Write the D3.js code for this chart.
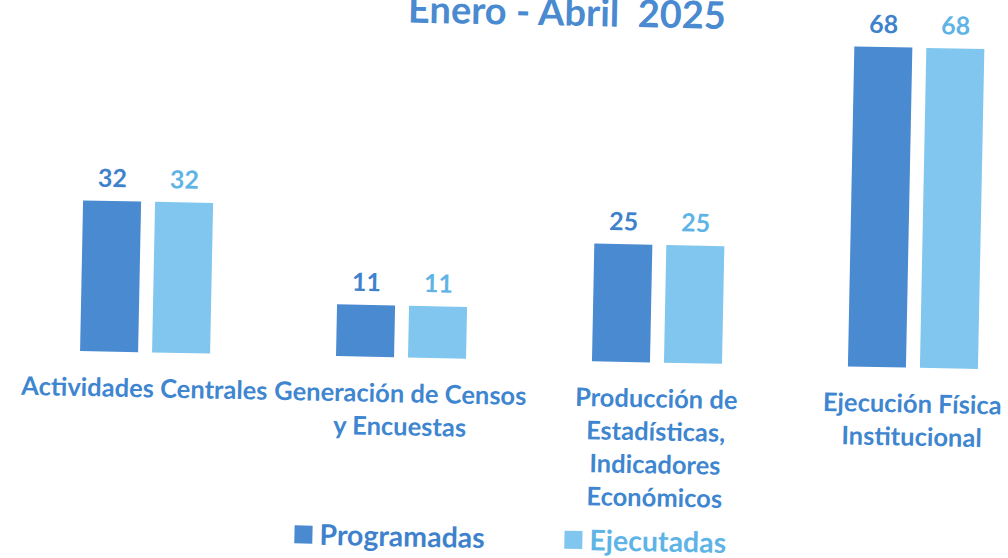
<!DOCTYPE html>
<html lang="es">
<head>
	<meta charset="UTF-8">
	<title>Enero - Abril 2025</title>
	<style>
		*{margin:0;padding:0;}
		body{background:#fff;overflow:hidden;}
		text{font-family:Lato, "Open Sans", sans-serif;font-weight:bold;white-space:pre;}
	</style>
</head>
<body>
	<div id="container"></div>
	<script src="https://cdn.jsdelivr.net/npm/d3@7/dist/d3.min.js"></script>
	<script>
		var categories = [
			['Actividades Centrales'],
			['Generación de Censos', 'y Encuestas'],
			['Producción de', 'Estadísticas,', 'Indicadores', 'Económicos'],
			['Ejecución Física', 'Institucional']
		]
		var series = ['Programadas', 'Ejecutadas']
		var programadas = [32, 11, 25, 68]
		var ejecutadas = [32, 11, 25, 68]
		var colors = ['#4a8ad0', '#80c6ee']
		var labelColors = ['#3f82cc', '#5fb4e6']

		var width = 1008, height = 558,
			base = 360,
			angle = 1.15

		var svg = d3.select('#container').append('svg')
			.attr('width', width).attr('height', height)

		// the scan is a bit tilted, so the whole page is turned slightly
		var page = svg.append('g')
			.attr('transform', 'rotate(' + angle + ',530,' + base + ')')

		page.append('text')
			.attr('x', 560).attr('y', 25)
			.attr('text-anchor', 'middle')
			.attr('font-size', 38)
			.attr('fill', '#4a8ad0')
			.text('Enero - Abril  2025')

		var x0 = d3.scaleBand()
			.domain(d3.range(categories.length))
			.range([17, 1041])
			.paddingInner(0.492)
			.paddingOuter(0.246)

		var x1 = d3.scaleBand()
			.domain(series)
			.range([0, x0.bandwidth()])
			.paddingInner(0.194)

		var y = d3.scaleLinear()
			.domain([0, 68])
			.range([base, base - 320])

		var rows = categories.map(function (c, i) {
			return {i: i, lines: c, values: [programadas[i], ejecutadas[i]]}
		})

		var group = page.selectAll('g.cat')
			.data(rows)
			.enter()
			.append('g')
			.attr('class', 'cat')
			.attr('transform', function (d) { return 'translate(' + x0(d.i) + ',0)' })

		var bar = group.selectAll('g')
			.data(function (d) {
				return d.values.map(function (v, k) { return {s: series[k], k: k, v: v} })
			})
			.enter()
			.append('g')

		bar.append('rect')
			.attr('x', function (d) { return x1(d.s) })
			.attr('y', function (d) { return y(d.v) })
			.attr('width', x1.bandwidth())
			.attr('height', function (d) { return y(0) - y(d.v) })
			.attr('fill', function (d) { return colors[d.k] })

		bar.append('text')
			.attr('x', function (d) { return x1(d.s) + x1.bandwidth() / 2 })
			.attr('y', function (d) { return y(d.v) - 14 })
			.attr('text-anchor', 'middle')
			.attr('font-size', 25)
			.attr('fill', function (d) { return labelColors[d.k] })
			.text(function (d) { return d.v })

		group.append('text')
			.attr('text-anchor', 'middle')
			.attr('font-size', 25.5)
			.attr('fill', '#3f86d0')
			.selectAll('tspan')
			.data(function (d) { return d.lines })
			.enter()
			.append('tspan')
			.attr('x', x0.bandwidth() / 2)
			.attr('y', function (d, i) { return base + 45 + i * 33 })
			.text(function (d) { return d })

		var legend = page.append('g')
			.attr('transform', 'translate(0,' + (base + 179) + ')')
		var item = legend.selectAll('g')
			.data(series)
			.enter()
			.append('g')
			.attr('transform', function (d, i) { return 'translate(' + [298, 568][i] + ',0)' })
		item.append('rect')
			.attr('y', -9).attr('width', 18).attr('height', 18)
			.attr('fill', function (d, i) { return colors[i] })
		item.append('text')
			.attr('x', 25).attr('y', 10)
			.attr('font-size', 28.5)
			.attr('fill', function (d, i) { return labelColors[i] })
			.text(function (d) { return d })
	</script>
</body>
</html>
